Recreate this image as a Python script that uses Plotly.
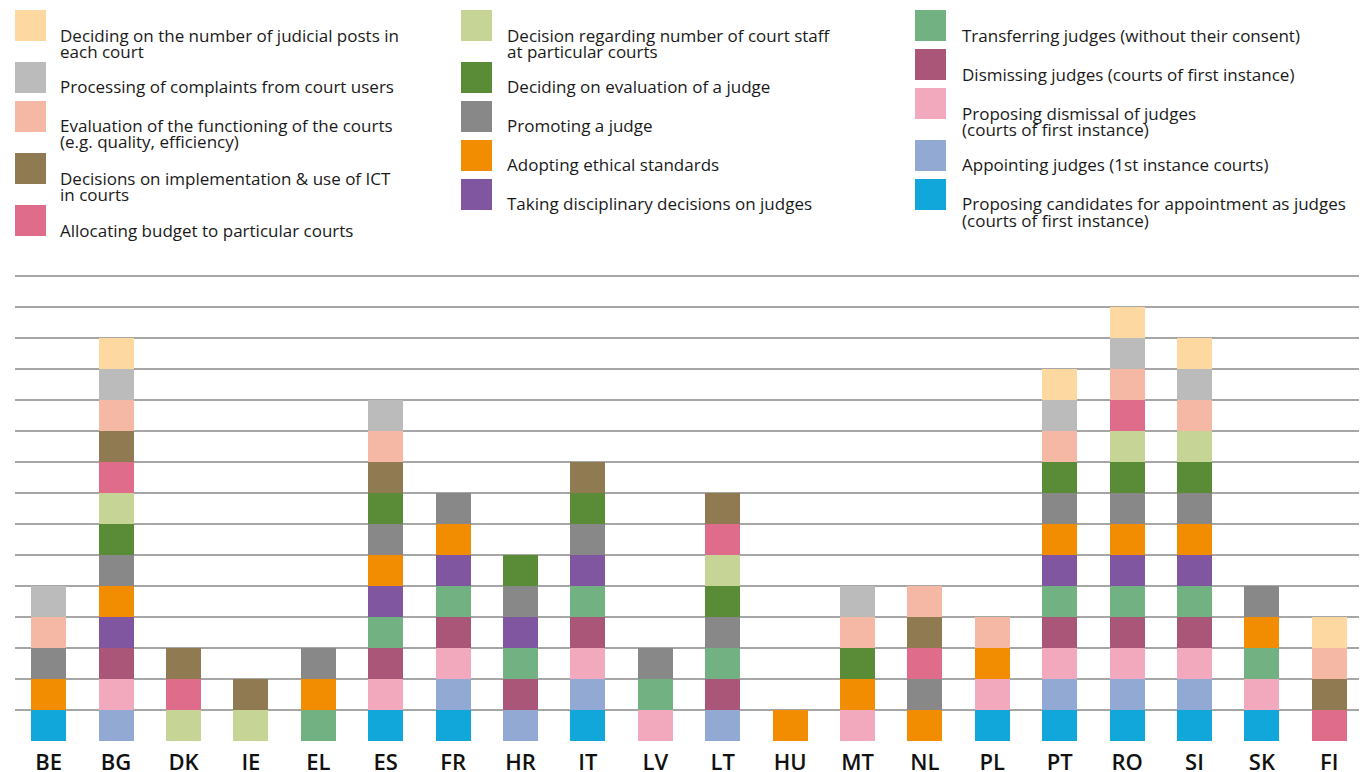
import plotly.graph_objects as go

# ---------------- data ----------------
countries = ["BE", "BG", "DK", "IE", "EL", "ES", "FR", "HR", "IT", "LV",
             "LT", "HU", "MT", "NL", "PL", "PT", "RO", "SI", "SK", "FI"]

# powers in stacking order (bottom -> top)
powers = [
    "Proposing candidates for appointment as judges<br>(courts of first instance)",
    "Appointing judges (1st instance courts)",
    "Proposing dismissal of judges<br>(courts of first instance)",
    "Dismissing judges (courts of first instance)",
    "Transferring judges (without their consent)",
    "Taking disciplinary decisions on judges",
    "Adopting ethical standards",
    "Promoting a judge",
    "Deciding on evaluation of a judge",
    "Decision regarding number of court staff<br>at particular courts",
    "Allocating budget to particular courts",
    "Decisions on implementation & use of ICT<br>in courts",
    "Evaluation of the functioning of the courts<br>(e.g. quality, efficiency)",
    "Processing of complaints from court users",
    "Deciding on the number of judicial posts in<br>each court",
]

colors = ["#12A7DB", "#92A9D3", "#F3A9BD", "#A95679", "#72B282",
          "#8156A1", "#F28C00", "#888888", "#5A8C38", "#C6D495",
          "#E06C8B", "#8F7A52", "#F5B8A4", "#BBBBBB", "#FDD8A0"]

#                 BE BG DK IE EL ES FR HR IT LV LT HU MT NL PL PT RO SI SK FI
proposing_cand  = [1, 0, 0, 0, 0, 1, 1, 0, 1, 0, 0, 0, 0, 0, 1, 1, 1, 1, 1, 0]
appointing      = [0, 1, 0, 0, 0, 0, 1, 1, 1, 0, 1, 0, 0, 0, 0, 1, 1, 1, 0, 0]
proposing_dism  = [0, 1, 0, 0, 0, 1, 1, 0, 1, 1, 0, 0, 1, 0, 1, 1, 1, 1, 1, 0]
dismissing      = [0, 1, 0, 0, 0, 1, 1, 1, 1, 0, 1, 0, 0, 0, 0, 1, 1, 1, 0, 0]
transferring    = [0, 0, 0, 0, 1, 1, 1, 1, 1, 1, 1, 0, 0, 0, 0, 1, 1, 1, 1, 0]
disciplinary    = [0, 1, 0, 0, 0, 1, 1, 1, 1, 0, 0, 0, 0, 0, 0, 1, 1, 1, 0, 0]
ethical         = [1, 1, 0, 0, 1, 1, 1, 0, 0, 0, 0, 1, 1, 1, 1, 1, 1, 1, 1, 0]
promoting       = [1, 1, 0, 0, 1, 1, 1, 1, 1, 1, 1, 0, 0, 1, 0, 1, 1, 1, 1, 0]
eval_judge      = [0, 1, 0, 0, 0, 1, 0, 1, 1, 0, 1, 0, 1, 0, 0, 1, 1, 1, 0, 0]
court_staff     = [0, 1, 1, 1, 0, 0, 0, 0, 0, 0, 1, 0, 0, 0, 0, 0, 1, 1, 0, 0]
budget          = [0, 1, 1, 0, 0, 0, 0, 0, 0, 0, 1, 0, 0, 1, 0, 0, 1, 0, 0, 1]
ict             = [0, 1, 1, 1, 0, 1, 0, 0, 1, 0, 1, 0, 0, 1, 0, 0, 0, 0, 0, 1]
eval_courts     = [1, 1, 0, 0, 0, 1, 0, 0, 0, 0, 0, 0, 1, 1, 1, 1, 1, 1, 0, 1]
complaints      = [1, 1, 0, 0, 0, 1, 0, 0, 0, 0, 0, 0, 1, 0, 0, 1, 1, 1, 0, 0]
judicial_posts  = [0, 1, 0, 0, 0, 0, 0, 0, 0, 0, 0, 0, 0, 0, 0, 1, 1, 1, 0, 1]

series = [proposing_cand, appointing, proposing_dism, dismissing, transferring,
          disciplinary, ethical, promoting, eval_judge, court_staff, budget,
          ict, eval_courts, complaints, judicial_posts]

# legend columns (indices into powers), top to bottom
legend_columns = [[14, 13, 12, 11, 10], [9, 8, 7, 6, 5], [4, 3, 2, 1, 0]]

# ---------------- layout constants ----------------
OFF = 8                       # page body margin of the browser
W, H = 1367 - OFF, 772 - OFF  # figure size
ML, MR, MT, MB = 15 - OFF, 4, 245 - OFF, 31
PW, PH = W - ML - MR, H - MT - MB
FONT = "Open Sans"


def px_x(x):  # page pixel -> paper
    return (x - OFF - ML) / PW


def px_y(y):
    return (MT + PH - (y - OFF)) / PH


fig = go.Figure()
for name, vals, col in zip(powers, series, colors):
    fig.add_trace(go.Bar(
        x=countries, y=vals, name=name.replace("<br>", " "),
        marker=dict(color=col, line=dict(width=0)),
        showlegend=False,
    ))

# ---------------- manual legend ----------------
shapes = []
annotations = []
col_swatch_x = [15, 461, 915]
col_text_x = [59, 506, 961]
for c, items in enumerate(legend_columns):
    y = 10
    for idx in items:
        lines = powers[idx].split("<br>")
        shapes.append(dict(
            type="rect", xref="paper", yref="paper",
            x0=px_x(col_swatch_x[c]), x1=px_x(col_swatch_x[c] + 31),
            y0=px_y(y), y1=px_y(y + 31),
            fillcolor=colors[idx], line=dict(width=0), layer="above",
        ))
        for k, ln in enumerate(lines):
            annotations.append(dict(
                xref="paper", yref="paper",
                x=px_x(col_text_x[c]), y=px_y(y + 25 + 16 * k),
                xanchor="left", yanchor="middle",
                text=ln, showarrow=False, borderpad=0,
                font=dict(family=FONT, size=17, color="#1a1a1a"),
            ))
        y += 39 + 13 * (len(lines) - 1)

fig.update_layout(
    width=W, height=H,
    margin=dict(l=ML, r=MR, t=MT, b=MB, pad=0, autoexpand=False),
    barmode="stack", bargap=0.48,
    plot_bgcolor="white", paper_bgcolor="white",
    shapes=shapes, annotations=annotations,
    font=dict(family=FONT, color="#111111"),
    xaxis=dict(
        showgrid=False, showline=False, zeroline=False, automargin=False,
        ticks="", ticklabelstandoff=6,
        tickfont=dict(family=FONT, size=22, color="#111111", weight=600),
        fixedrange=True,
    ),
    yaxis=dict(
        range=[0, 16], dtick=1, showgrid=True, gridcolor="#a6a6a6",
        gridwidth=2, showticklabels=False, zeroline=False, ticks="",
        automargin=False, fixedrange=True,
    ),
)

fig.write_html("out.html")
